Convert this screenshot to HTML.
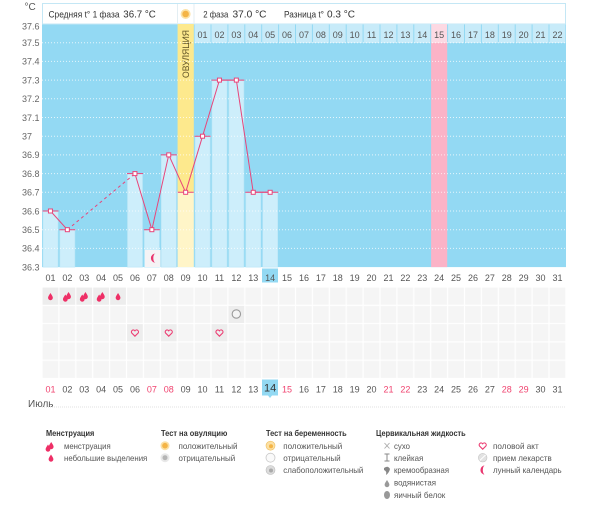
<!DOCTYPE html>
<html><head><meta charset="utf-8"><style>
html,body{margin:0;padding:0;background:#fff;width:600px;height:522px;overflow:hidden}
svg{display:block}
text{font-family:"Liberation Sans","DejaVu Sans",sans-serif}
</style></head><body>
<svg width="600" height="522" viewBox="0 0 600 522" xmlns="http://www.w3.org/2000/svg">
<defs>
<pattern id="cell" x="42" y="287" width="16.9" height="18.3" patternUnits="userSpaceOnUse">
<rect x="0.6" y="0.6" width="15.7" height="17.1" fill="#f5f5f5"/>
</pattern>
<path id="drop" d="M0,-3.5 C1.2,-1.5 2.4,0 2.4,1.3 A2.4,2.4 0 0 1 -2.4,1.3 C-2.4,0 -1.2,-1.5 0,-3.5Z"/>
<path id="heart" d="M0,3.2 L-3.2,0 A1.7,1.7 0 0 1 0,-2.2 A1.7,1.7 0 0 1 3.2,0 Z"/>
</defs>

<!-- °C -->
<text x="24.5" y="10" font-size="10" fill="#555">°C</text>

<!-- chart background -->
<rect x="42" y="24" width="524" height="243.1" fill="#93d9f3"/>

<!-- header box -->
<rect x="42.5" y="3.5" width="523" height="20.5" fill="#fff" stroke="#c4e7f5"/>
<line x1="177.5" y1="4" x2="177.5" y2="24" stroke="#e3eef3"/>
<line x1="194" y1="4" x2="194" y2="24" stroke="#e3eef3"/>
<circle cx="185.6" cy="14" r="5" fill="#fbe2a6"/>
<circle cx="185.6" cy="14" r="3.3" fill="#f4b446"/>
<text x="48.5" y="17.5" font-size="9.5" fill="#333" textLength="71" lengthAdjust="spacingAndGlyphs">Средняя t° 1 фаза</text>
<text x="123.3" y="17.5" font-size="10.5" fill="#333" textLength="32.5" lengthAdjust="spacingAndGlyphs">36.7 °C</text>
<text x="203.3" y="17.5" font-size="9.5" fill="#333" textLength="25" lengthAdjust="spacingAndGlyphs">2 фаза</text>
<text x="232.5" y="17.5" font-size="10.5" fill="#333" textLength="34" lengthAdjust="spacingAndGlyphs">37.0 °C</text>
<text x="284" y="17.5" font-size="9.5" fill="#333" textLength="40" lengthAdjust="spacingAndGlyphs">Разница t°</text>
<text x="327" y="17.5" font-size="10.5" fill="#333" textLength="28" lengthAdjust="spacingAndGlyphs">0.3 °C</text>

<!-- ovulation column -->
<rect x="177.6" y="24" width="16.2" height="168.3" fill="#fde98d"/>
<rect x="177.6" y="192.3" width="16.2" height="74.8" fill="#fff5c8"/>
<text transform="translate(189.2,54) rotate(-90)" text-anchor="middle" font-size="9" fill="#5e5124" textLength="48" lengthAdjust="spacingAndGlyphs">ОВУЛЯЦИЯ</text>

<!-- pink day column -->
<rect x="431.1" y="43" width="16.1" height="224.1" fill="#fbb3c7"/>

<!-- phase 2 header cells -->
<g fill="#c8ebf9">
<rect x="194.6" y="24" width="15.9" height="19"/><rect x="211.5" y="24" width="15.9" height="19"/><rect x="228.4" y="24" width="15.9" height="19"/><rect x="245.3" y="24" width="15.9" height="19"/><rect x="262.2" y="24" width="15.9" height="19"/><rect x="279.1" y="24" width="15.9" height="19"/><rect x="296" y="24" width="15.9" height="19"/><rect x="312.9" y="24" width="15.9" height="19"/><rect x="329.8" y="24" width="15.9" height="19"/><rect x="346.7" y="24" width="15.9" height="19"/><rect x="363.6" y="24" width="15.9" height="19"/><rect x="380.5" y="24" width="15.9" height="19"/><rect x="397.4" y="24" width="15.9" height="19"/><rect x="414.3" y="24" width="15.9" height="19"/><rect x="448.1" y="24" width="15.9" height="19"/><rect x="465" y="24" width="15.9" height="19"/><rect x="481.9" y="24" width="15.9" height="19"/><rect x="498.8" y="24" width="15.9" height="19"/><rect x="515.7" y="24" width="15.9" height="19"/><rect x="532.6" y="24" width="15.9" height="19"/><rect x="549.5" y="24" width="15.9" height="19"/>
</g>
<rect x="431.2" y="24" width="15.9" height="19" fill="#fcd9e3"/>
<g font-size="9" fill="#555" text-anchor="middle">
<text x="202.55" y="38">01</text><text x="219.45" y="38">02</text><text x="236.35" y="38">03</text><text x="253.25" y="38">04</text><text x="270.15" y="38">05</text><text x="287.05" y="38">06</text><text x="303.95" y="38">07</text><text x="320.85" y="38">08</text><text x="337.75" y="38">09</text><text x="354.65" y="38">10</text><text x="371.55" y="38">11</text><text x="388.45" y="38">12</text><text x="405.35" y="38">13</text><text x="422.25" y="38">14</text><text x="439.15" y="38">15</text><text x="456.05" y="38">16</text><text x="472.95" y="38">17</text><text x="489.85" y="38">18</text><text x="506.75" y="38">19</text><text x="523.65" y="38">20</text><text x="540.55" y="38">21</text><text x="557.45" y="38">22</text>
</g>

<!-- bars -->
<g fill="#cdeefb" stroke="#b9e6f7" stroke-width="0.6">
<rect x="43" y="211" width="15" height="56.1"/>
<rect x="59.9" y="229.7" width="15" height="37.4"/>
<rect x="127.5" y="173.6" width="15" height="93.5"/>
<rect x="144.4" y="229.7" width="15" height="37.4"/>
<rect x="161.3" y="154.9" width="15" height="112.2"/>
<rect x="195.1" y="136.2" width="15" height="130.9"/>
<rect x="212" y="80.1" width="15" height="187"/>
<rect x="228.9" y="80.1" width="15" height="187"/>
<rect x="245.8" y="192.3" width="15" height="74.8"/>
<rect x="262.7" y="192.3" width="15" height="74.8"/>
</g>

<!-- moon cell -->
<rect x="145" y="250" width="15.5" height="17" fill="#f5f3f5"/>
<path d="M155.5,253.5 A4.6,4.6 0 1 0 155.5,262.7 A2.2,4.6 0 0 1 155.5,253.5Z" fill="#e9356e"/>

<!-- grid lines -->
<g stroke="#ffffff" stroke-width="1" stroke-dasharray="1,2" opacity="0.75">
<line x1="42" y1="42.7" x2="566" y2="42.7"/><line x1="42" y1="61.4" x2="566" y2="61.4"/><line x1="42" y1="80.1" x2="566" y2="80.1"/><line x1="42" y1="98.8" x2="566" y2="98.8"/><line x1="42" y1="117.5" x2="566" y2="117.5"/><line x1="42" y1="136.2" x2="566" y2="136.2"/><line x1="42" y1="154.9" x2="566" y2="154.9"/><line x1="42" y1="173.6" x2="566" y2="173.6"/><line x1="42" y1="192.3" x2="566" y2="192.3"/><line x1="42" y1="211" x2="566" y2="211"/><line x1="42" y1="229.7" x2="566" y2="229.7"/><line x1="42" y1="248.4" x2="566" y2="248.4"/>
</g>

<!-- y labels -->
<g font-size="9" fill="#666">
<text x="22" y="29.5">37.6</text><text x="22" y="46">37.5</text><text x="22" y="64.7">37.4</text><text x="22" y="83.4">37.3</text><text x="22" y="102.1">37.2</text><text x="22" y="120.8">37.1</text><text x="22" y="139.5">37</text><text x="22" y="158.2">36.9</text><text x="22" y="176.9">36.8</text><text x="22" y="195.6">36.7</text><text x="22" y="214.3">36.6</text><text x="22" y="233">36.5</text><text x="22" y="251.7">36.4</text><text x="22" y="270.4">36.3</text>
</g>

<!-- temperature line -->
<g stroke="#e8457a" stroke-width="1" fill="none">
<line x1="42.5" y1="211" x2="58.5" y2="211"/>
<line x1="59.4" y1="229.7" x2="75.4" y2="229.7"/>
<line x1="127" y1="173.6" x2="143" y2="173.6"/>
<line x1="143.9" y1="229.7" x2="159.9" y2="229.7"/>
<line x1="160.8" y1="154.9" x2="176.8" y2="154.9"/>
<line x1="177.7" y1="192.3" x2="193.7" y2="192.3"/>
<line x1="194.6" y1="136.2" x2="210.6" y2="136.2"/>
<line x1="211.5" y1="80.1" x2="244.3" y2="80.1"/>
<line x1="245.3" y1="192.3" x2="278.1" y2="192.3"/>
<polyline points="50.45,211 67.35,229.7"/>
<line x1="67.35" y1="229.7" x2="134.95" y2="173.6" stroke-dasharray="3,3"/>
<polyline points="134.95,173.6 151.85,229.7 168.75,154.9 185.65,192.3 202.55,136.2 219.45,80.1 236.35,80.1 253.25,192.3 270.15,192.3"/>
</g>
<g fill="#fff" stroke="#e8457a" stroke-width="1">
<rect x="48.45" y="209" width="4" height="4"/><rect x="65.35" y="227.7" width="4" height="4"/><rect x="132.95" y="171.6" width="4" height="4"/><rect x="149.85" y="227.7" width="4" height="4"/><rect x="166.75" y="152.9" width="4" height="4"/><rect x="183.65" y="190.3" width="4" height="4"/><rect x="200.55" y="134.2" width="4" height="4"/><rect x="217.45" y="78.1" width="4" height="4"/><rect x="234.35" y="78.1" width="4" height="4"/><rect x="251.25" y="190.3" width="4" height="4"/><rect x="268.15" y="190.3" width="4" height="4"/>
</g>

<!-- top day row -->
<rect x="262" y="268.5" width="16" height="14" fill="#93d9f3"/>
<g font-size="9" fill="#555" text-anchor="middle">
<text x="50.45" y="281">01</text><text x="67.35" y="281">02</text><text x="84.25" y="281">03</text><text x="101.15" y="281">04</text><text x="118.05" y="281">05</text><text x="134.95" y="281">06</text><text x="151.85" y="281">07</text><text x="168.75" y="281">08</text><text x="185.65" y="281">09</text><text x="202.55" y="281">10</text><text x="219.45" y="281">11</text><text x="236.35" y="281">12</text><text x="253.25" y="281">13</text><text x="270.15" y="281">14</text><text x="287.05" y="281">15</text><text x="303.95" y="281">16</text><text x="320.85" y="281">17</text><text x="337.75" y="281">18</text><text x="354.65" y="281">19</text><text x="371.55" y="281">20</text><text x="388.45" y="281">21</text><text x="405.35" y="281">22</text><text x="422.25" y="281">23</text><text x="439.15" y="281">24</text><text x="456.05" y="281">25</text><text x="472.95" y="281">26</text><text x="489.85" y="281">27</text><text x="506.75" y="281">28</text><text x="523.65" y="281">29</text><text x="540.55" y="281">30</text><text x="557.45" y="281">31</text>
</g>

<!-- icon grid -->
<rect x="42" y="287" width="524" height="91.5" fill="url(#cell)"/>
<g fill="#ededed">
<rect x="42.6" y="287.6" width="15.7" height="17.1"/><rect x="59.5" y="287.6" width="15.7" height="17.1"/><rect x="76.4" y="287.6" width="15.7" height="17.1"/><rect x="93.3" y="287.6" width="15.7" height="17.1"/><rect x="110.2" y="287.6" width="15.7" height="17.1"/>
<rect x="228.5" y="305.9" width="15.7" height="17.1"/>
<rect x="127.1" y="324.2" width="15.7" height="17.1"/><rect x="160.9" y="324.2" width="15.7" height="17.1"/><rect x="211.6" y="324.2" width="15.7" height="17.1"/>
</g>
<g fill="#ee2f66">
<use href="#drop" x="50.45" y="296.5"/>
<use href="#drop" x="118.05" y="296.5"/>
<g transform="translate(67.35,296)"><use href="#drop" x="1.2" y="-0.5"/><use href="#drop" x="-2" y="2"/></g>
<g transform="translate(84.25,296)"><use href="#drop" x="1.2" y="-0.5"/><use href="#drop" x="-2" y="2"/></g>
<g transform="translate(101.15,296)"><use href="#drop" x="1.2" y="-0.5"/><use href="#drop" x="-2" y="2"/></g>
</g>
<circle cx="236.35" cy="314" r="4.2" fill="#f4f4f4" stroke="#9a9a9a" stroke-width="1.1"/>
<g fill="none" stroke="#ec3f74" stroke-width="1.1">
<use href="#heart" x="134.95" y="333"/><use href="#heart" x="168.75" y="333"/><use href="#heart" x="219.45" y="333"/>
</g>

<!-- bottom day row -->
<rect x="262" y="379.5" width="16" height="16" fill="#93d9f3"/>
<path d="M268,395.5 L270,398 L272,395.5Z" fill="#93d9f3"/>
<g font-size="9" fill="#555" text-anchor="middle">
<text x="50.45" y="392.5" fill="#f0436f">01</text><text x="67.35" y="392.5">02</text><text x="84.25" y="392.5">03</text><text x="101.15" y="392.5">04</text><text x="118.05" y="392.5">05</text><text x="134.95" y="392.5">06</text><text x="151.85" y="392.5" fill="#f0436f">07</text><text x="168.75" y="392.5" fill="#f0436f">08</text><text x="185.65" y="392.5">09</text><text x="202.55" y="392.5">10</text><text x="219.45" y="392.5">11</text><text x="236.35" y="392.5">12</text><text x="253.25" y="392.5">13</text><text x="270.15" y="391.5" font-size="11" fill="#333">14</text><text x="287.05" y="392.5" fill="#f0436f">15</text><text x="303.95" y="392.5">16</text><text x="320.85" y="392.5">17</text><text x="337.75" y="392.5">18</text><text x="354.65" y="392.5">19</text><text x="371.55" y="392.5">20</text><text x="388.45" y="392.5" fill="#f0436f">21</text><text x="405.35" y="392.5" fill="#f0436f">22</text><text x="422.25" y="392.5">23</text><text x="439.15" y="392.5">24</text><text x="456.05" y="392.5">25</text><text x="472.95" y="392.5">26</text><text x="489.85" y="392.5">27</text><text x="506.75" y="392.5" fill="#f0436f">28</text><text x="523.65" y="392.5" fill="#f0436f">29</text><text x="540.55" y="392.5">30</text><text x="557.45" y="392.5">31</text>
</g>
<text x="28" y="407" font-size="10" fill="#555">Июль</text>
<line x1="42" y1="407" x2="566" y2="407" stroke="#e2e2e2" stroke-dasharray="1,1"/>

<!-- legend -->
<g font-size="8.5" font-weight="bold" fill="#333" lengthAdjust="spacingAndGlyphs">
<text x="46" y="436" textLength="48.3" lengthAdjust="spacingAndGlyphs">Менструация</text>
<text x="161" y="436" textLength="66.3" lengthAdjust="spacingAndGlyphs">Тест на овуляцию</text>
<text x="266" y="436" textLength="80.7" lengthAdjust="spacingAndGlyphs">Тест на беременность</text>
<text x="376" y="436" textLength="89.7" lengthAdjust="spacingAndGlyphs">Цервикальная жидкость</text>
</g>
<g font-size="8.5" fill="#555">
<text x="64" y="448.8" textLength="46.7" lengthAdjust="spacingAndGlyphs">менструация</text>
<text x="64" y="460.8" textLength="83.3" lengthAdjust="spacingAndGlyphs">небольшие выделения</text>
<text x="178.5" y="448.8" textLength="59" lengthAdjust="spacingAndGlyphs">положительный</text>
<text x="178.5" y="460.8" textLength="56.7" lengthAdjust="spacingAndGlyphs">отрицательный</text>
<text x="283.3" y="448.8" textLength="59" lengthAdjust="spacingAndGlyphs">положительный</text>
<text x="283.3" y="460.8" textLength="57.4" lengthAdjust="spacingAndGlyphs">отрицательный</text>
<text x="283.3" y="473.1" textLength="80" lengthAdjust="spacingAndGlyphs">слабоположительный</text>
<text x="394" y="448.8" textLength="16" lengthAdjust="spacingAndGlyphs">сухо</text>
<text x="394" y="460.8" textLength="29.3" lengthAdjust="spacingAndGlyphs">клейкая</text>
<text x="394" y="473.1" textLength="55" lengthAdjust="spacingAndGlyphs">кремообразная</text>
<text x="394" y="485.4" textLength="42" lengthAdjust="spacingAndGlyphs">водянистая</text>
<text x="394" y="497.8" textLength="51.3" lengthAdjust="spacingAndGlyphs">яичный белок</text>
<text x="493" y="448.8" textLength="45.7" lengthAdjust="spacingAndGlyphs">половой акт</text>
<text x="493" y="460.8" textLength="58.7" lengthAdjust="spacingAndGlyphs">прием лекарств</text>
<text x="493" y="473.1" textLength="68.7" lengthAdjust="spacingAndGlyphs">лунный календарь</text>
</g>
<!-- legend icons -->
<g fill="#ee2f66">
<g transform="translate(50,446)"><use href="#drop" x="1.2" y="-0.5"/><use href="#drop" x="-2" y="2"/></g>
<use href="#drop" x="51" y="458"/>
</g>
<circle cx="165" cy="445.7" r="4.5" fill="#fbe0a4"/><circle cx="165" cy="445.7" r="2.8" fill="#f4b446"/>
<circle cx="165" cy="457.7" r="4.5" fill="#e8e8e8"/><circle cx="165" cy="457.7" r="2.5" fill="#b5b5b5"/>
<circle cx="270.5" cy="445.7" r="4.5" fill="#fbe0a4" stroke="#f0c060" stroke-width="0.6"/><circle cx="271" cy="446.2" r="2" fill="#f4b446"/>
<circle cx="270.5" cy="457.7" r="4.5" fill="#fafafa" stroke="#c8c8c8" stroke-width="0.8"/>
<circle cx="270.5" cy="470" r="4.5" fill="#dcdcdc" stroke="#bbb" stroke-width="0.6"/><circle cx="271" cy="470.5" r="2" fill="#aaa"/>
<g stroke="#aaa" stroke-width="0.9"><line x1="384.5" y1="443" x2="389.5" y2="448.5"/><line x1="389.5" y1="443" x2="384.5" y2="448.5"/></g>
<g stroke="#888" stroke-width="1"><line x1="384.5" y1="454" x2="389.5" y2="454"/><line x1="387" y1="454" x2="387" y2="461"/><line x1="384.5" y1="461" x2="389.5" y2="461"/></g>
<path d="M384,468 Q388,465 390,469 Q389,473 386,475 Q387,471 384,470Z" fill="#888"/>
<use href="#drop" x="387" y="483.5" fill="#999"/>
<ellipse cx="387" cy="495" rx="3" ry="4" fill="#999"/>
<use href="#heart" x="482.7" y="446" fill="none" stroke="#ec3f74" stroke-width="1.1"/>
<circle cx="482.7" cy="457.7" r="4.3" fill="#e2e2e2" stroke="#c4c4c4" stroke-width="0.6"/><line x1="479.8" y1="460.5" x2="485.6" y2="454.9" stroke="#fff" stroke-width="1"/>
<path d="M485,465.4 A4.6,4.6 0 1 0 485,474.6 A2.2,4.6 0 0 1 485,465.4Z" fill="#e9356e"/>
</svg>
</body></html>
